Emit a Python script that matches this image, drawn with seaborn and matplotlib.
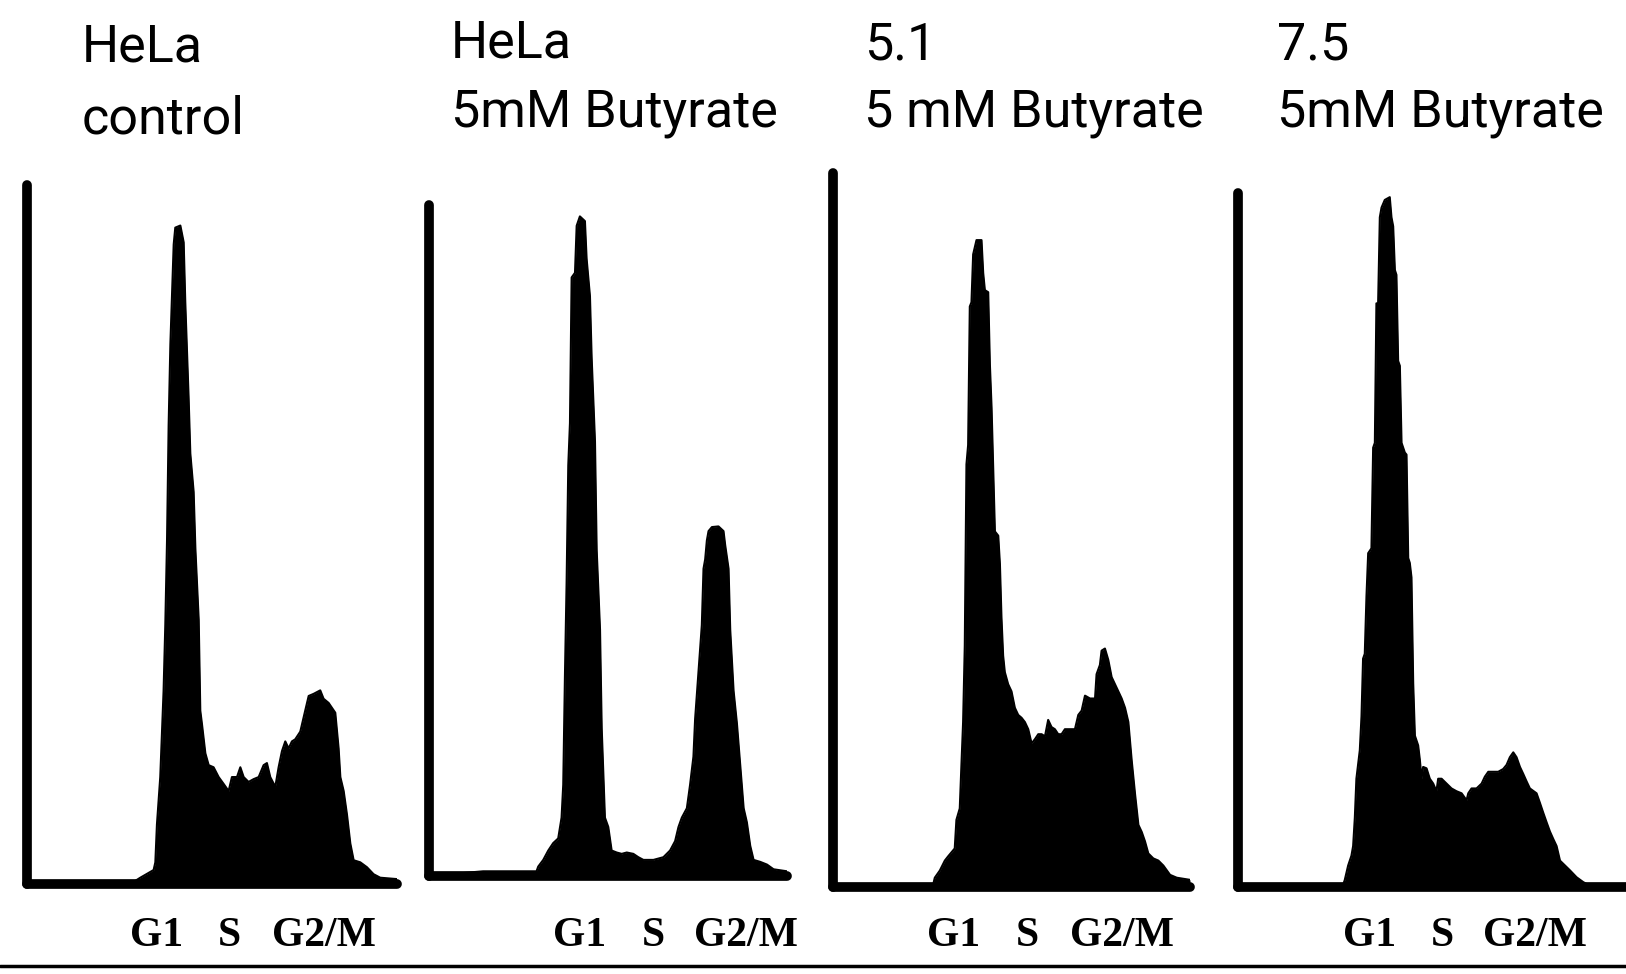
import matplotlib
matplotlib.use("Agg")
import matplotlib.pyplot as plt
from matplotlib.lines import Line2D
import seaborn as sns

# ---------------- data (DNA content histograms, counts as % of axis range) -------------
CH1 = [0, 73.8, 78.4, 87.6, 88.8, 89.9, 92.2, 94.5, 95.7, 96.9, 98.0, 99.2, 101.5, 102.6, 106.1,
       108.4, 109.5, 111.8, 113.0, 115.3, 116.5, 118.8, 119.9, 121.1, 123.4, 125.7, 129.1, 132.6,
       136.1, 139.5, 141.8, 145.3, 147.6, 149.9, 153.3, 156.8, 160.3, 163.7, 166.0, 168.3, 171.8,
       174.1, 176.4, 178.7, 181.0, 183.3, 185.6, 189.1, 192.5, 194.9, 198.3, 202.9, 205.2, 208.7,
       213.3, 215.6, 216.8, 219.1, 221.4, 223.7, 226.0, 230.6, 235.2, 239.8, 244.4, 256]
N1 = [0.3, 0.3, 0.9, 2.0, 3.1, 8.5, 15.3, 27.6, 37.1, 49.3, 65.6, 77.2, 91.5, 93.9, 94.2, 91.8,
      83.3, 69.7, 61.6, 56.1, 48.0, 37.8, 24.8, 22.8, 18.7, 17.0, 16.7, 15.3, 14.3, 13.3, 15.3,
      15.3, 16.7, 15.3, 14.6, 15.0, 15.3, 17.0, 17.3, 15.3, 13.9, 16.7, 19.0, 20.4, 19.4, 20.4,
      20.7, 21.8, 24.8, 26.9, 27.2, 27.7, 26.5, 25.9, 24.5, 19.4, 15.3, 13.3, 9.9, 5.8, 3.4, 3.1,
      2.4, 1.4, 0.9, 0.7]

CH2 = [0, 38.7, 76.9, 78.1, 81.7, 85.3, 88.8, 92.4, 94.8, 96.0, 97.2, 98.4, 99.6, 100.8, 102.0,
       104.4, 105.6, 107.9, 111.5, 112.7, 115.1, 116.3, 118.7, 119.9, 122.3, 123.5, 125.8, 128.2,
       130.6, 134.2, 137.8, 141.4, 146.1, 149.7, 153.3, 160.5, 167.6, 172.4, 176.0, 178.4, 180.8,
       184.4, 186.7, 189.1, 190.3, 192.7, 195.1, 196.3, 197.5, 198.7, 199.9, 202.3, 207.0, 210.6,
       211.8, 214.2, 215.4, 217.8, 220.2, 222.6, 225.0, 227.3, 229.7, 232.1, 236.9, 241.7, 246.4, 256]
N2 = [0.0, 0.7, 0.7, 1.4, 2.4, 3.8, 4.9, 5.6, 8.7, 13.6, 29.7, 43.7, 61.2, 67.5, 89.2, 89.9, 96.9,
      98.3, 97.6, 92.0, 86.4, 77.3, 64.7, 48.6, 36.7, 22.0, 8.7, 7.3, 3.8, 3.5, 3.3, 3.5, 3.3, 2.8,
      2.4, 2.4, 2.8, 3.8, 5.2, 7.3, 8.7, 10.1, 13.6, 17.8, 23.4, 30.4, 37.4, 45.8, 47.2, 50.0, 51.4,
      52.0, 52.1, 51.4, 49.3, 45.8, 36.7, 27.6, 22.7, 16.4, 10.1, 8.0, 4.5, 2.4, 2.1, 1.7, 1.0, 0.7]

CH3 = [0, 71.8, 73.0, 76.6, 80.2, 82.6, 87.3, 88.5, 90.9, 92.1, 93.3, 94.5, 95.7, 96.9, 98.1, 99.3,
       100.5, 102.9, 106.5, 107.7, 108.9, 111.3, 112.5, 113.7, 114.9, 116.1, 118.5, 119.7, 120.8,
       122.0, 123.2, 125.6, 128.0, 130.4, 132.8, 135.2, 137.6, 140.0, 142.4, 144.8, 147.2, 149.6,
       152.0, 154.3, 156.7, 159.1, 161.5, 163.9, 166.3, 169.9, 173.5, 175.9, 178.3, 180.7, 184.3,
       187.9, 189.0, 191.4, 192.6, 195.0, 197.4, 199.8, 202.2, 204.6, 207.0, 209.4, 211.8, 214.2,
       216.6, 219.0, 221.4, 223.7, 226.1, 229.7, 233.3, 236.9, 241.7, 246.5, 256]
N3 = [0.3, 0.3, 1.3, 2.3, 3.7, 4.3, 5.4, 9.4, 11.0, 17.1, 23.1, 33.8, 59.2, 61.9, 81.3, 81.9, 88.6,
      90.6, 90.6, 86.0, 83.6, 83.3, 73.2, 67.2, 58.5, 49.8, 49.2, 45.2, 37.8, 32.4, 30.1, 28.4, 27.4,
      25.1, 24.1, 23.7, 23.1, 22.1, 20.1, 20.7, 21.4, 21.4, 21.1, 23.4, 22.4, 22.1, 21.4, 21.4, 22.1,
      22.1, 22.1, 24.1, 24.7, 26.8, 26.4, 26.4, 29.8, 31.1, 33.1, 33.4, 31.8, 29.4, 28.4, 27.4, 26.4,
      25.1, 23.1, 17.7, 13.0, 8.7, 7.7, 6.4, 4.7, 4.0, 3.7, 3.0, 1.7, 1.3, 1.0]

CH4 = [0, 74.0, 75.2, 77.6, 79.9, 81.1, 82.3, 83.4, 85.8, 87.0, 88.1, 89.3, 90.5, 91.7, 94.0, 95.2,
       96.4, 97.5, 98.7, 99.9, 101.1, 103.4, 106.9, 108.1, 109.3, 110.5, 111.6, 112.8, 114.0, 115.2,
       117.5, 118.7, 119.9, 121.0, 122.2, 123.4, 124.6, 126.9, 128.1, 129.3, 130.4, 132.8, 135.1,
       137.5, 139.8, 141.0, 143.4, 146.9, 150.4, 153.9, 157.5, 161.0, 162.2, 164.5, 168.0, 171.6,
       173.9, 176.3, 179.8, 183.3, 186.8, 189.2, 191.5, 193.9, 196.2, 198.6, 200.9, 203.3, 205.6,
       210.3, 212.7, 215.0, 217.4, 219.7, 222.1, 224.4, 226.8, 230.3, 233.8, 238.5, 243.2, 246.8, 273.3]
N4 = [0.3, 0.3, 1.0, 3.1, 4.5, 5.9, 10.0, 15.6, 19.7, 24.6, 32.9, 33.6, 41.9, 48.1, 48.8, 63.3, 64.0,
      84.1, 84.1, 96.5, 97.9, 99.0, 99.4, 96.5, 95.2, 88.9, 88.2, 75.8, 75.1, 64.0, 62.6, 62.3, 47.4,
      46.7, 44.6, 29.4, 21.8, 20.4, 18.3, 15.6, 17.3, 17.1, 15.6, 14.9, 13.8, 15.6, 15.6, 14.9, 14.2,
      13.8, 13.5, 12.5, 13.5, 14.2, 14.2, 14.9, 15.9, 16.6, 16.6, 16.6, 17.0, 17.6, 18.7, 19.4, 18.7,
      17.3, 16.3, 15.2, 14.2, 13.5, 12.1, 10.7, 9.3, 8.0, 6.9, 5.9, 3.8, 3.1, 2.4, 1.4, 0.7, 0.3, 0.3]

TITLE_LINE1 = ["HeLa", "HeLa", "5.1", "7.5"]
TITLE_LINE2 = ["control", "5mM Butyrate", "5 mM Butyrate", "5mM Butyrate"]
PHASES = ["G1", "S", "G2/M"]
CHANNEL_MAX = [256, 256, 256, 273.3]

SERIES = [(CH1, N1), (CH2, N2), (CH3, N3), (CH4, N4)]

# ---------------- layout (pixels in a 1626 x 974 canvas) ----------------
W, H = 1626, 974
AXES_PX = [(27, 397, 185, 884), (429, 787, 205, 876), (833, 1190, 173, 887), (1238, 1626, 193, 887)]
TITLE_X = [82, 451, 864, 1277]
TITLE_Y1 = [62, 57, 59, 59]
TITLE_Y2 = [133, 127, 127, 127]
PHASE_X = [(157, 229, 324), (580, 653, 746), (954, 1027, 1122), (1370, 1442, 1535)]
PHASE_Y = 946

sns.set_style("white")
plt.rcParams["font.family"] = ["Roboto", "DejaVu Sans"]

fig = plt.figure(figsize=(W / 100, H / 100), dpi=100)

for i, (ch, n) in enumerate(SERIES):
    assert len(ch) == len(n)
    l, r, t, b = AXES_PX[i]
    ax = fig.add_axes([l / W, (H - b) / H, (r - l) / W, (b - t) / H])
    sns.lineplot(x=ch, y=n, ax=ax, color="black", linewidth=1.5, estimator=None, sort=False)
    ax.fill_between(ch, n, 0, color="black", linewidth=0)
    ax.set_xlim(0, CHANNEL_MAX[i])
    ax.set_ylim(0, 100)
    ax.set_xticks([])
    ax.set_yticks([])
    ax.set_xlabel("")
    ax.set_ylabel("")
    ax.patch.set_alpha(0)
    for side in ("top", "right"):
        ax.spines[side].set_visible(False)
    for side in ("left", "bottom"):
        sp = ax.spines[side]
        sp.set_visible(True)
        sp.set_color("black")
        sp.set_linewidth(7)
        sp.set_capstyle("round")

    fig.text(TITLE_X[i] / W, 1 - TITLE_Y1[i] / H, TITLE_LINE1[i], fontsize=37.5,
             ha="left", va="baseline", color="black")
    fig.text(TITLE_X[i] / W, 1 - TITLE_Y2[i] / H, TITLE_LINE2[i], fontsize=37.5,
             ha="left", va="baseline", color="black")
    for px, lab in zip(PHASE_X[i], PHASES):
        fig.text(px / W, 1 - PHASE_Y / H, lab, fontsize=30, fontweight="bold",
                 family=["Liberation Serif", "DejaVu Serif"], ha="center", va="baseline",
                 color="black")

fig.add_artist(Line2D([0, 1], [1 - 966 / H, 1 - 966 / H], transform=fig.transFigure,
                      color="black", linewidth=2.5))

fig.savefig("out.png", dpi=100, facecolor="white")
